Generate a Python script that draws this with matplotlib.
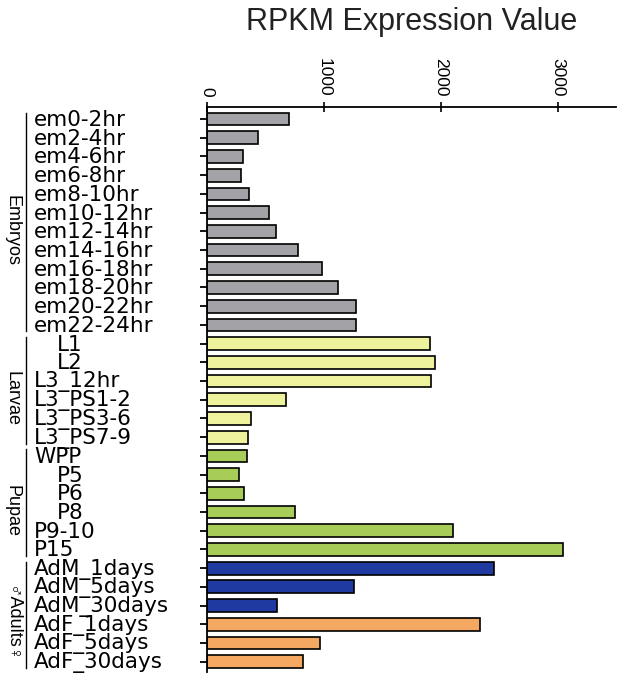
import matplotlib
matplotlib.use('Agg')
import matplotlib.pyplot as plt
from matplotlib import transforms

# RPKM values
embryo_labels = ['em0-2hr', 'em2-4hr', 'em4-6hr', 'em6-8hr', 'em8-10hr', 'em10-12hr',
                 'em12-14hr', 'em14-16hr', 'em16-18hr', 'em18-20hr', 'em20-22hr', 'em22-24hr']
embryo_values = [697, 434, 306, 289, 357, 531, 588, 779, 985, 1119, 1273, 1273]

larvae_labels = ['L1', 'L2', 'L3_12hr', 'L3_PS1-2', 'L3_PS3-6', 'L3_PS7-9']
larvae_values = [1907, 1947, 1912, 676, 374, 346]

pupae_labels = ['WPP', 'P5', 'P6', 'P8', 'P9-10', 'P15']
pupae_values = [337, 274, 317, 751, 2106, 3048]

male_labels = ['AdM_1days', 'AdM_5days', 'AdM_30days']
male_values = [2457, 1253, 597]

female_labels = ['AdF_1days', 'AdF_5days', 'AdF_30days']
female_values = [2335, 968, 822]

x_ticks = [0, 1000, 2000, 3000]

series = [
    (embryo_labels, embryo_values, '#a3a3a7'),
    (larvae_labels, larvae_values, '#eef29c'),
    (pupae_labels, pupae_values, '#a7cc58'),
    (male_labels, male_values, '#1f3aa0'),
    (female_labels, female_values, '#f4a862'),
]

groups = [
    ('Embryos', len(embryo_labels)),
    ('Larvae', len(larvae_labels)),
    ('Pupae', len(pupae_labels)),
    ('\u2642Adults\u2640', len(male_labels) + len(female_labels)),
]

fig = plt.figure(figsize=(6.23, 6.73), dpi=100)
W, H = 623, 673
ax = fig.add_axes([207.3 / W, 1 - 672 / H, (616 - 207.3) / W, (672 - 106.7) / H])

labels, values, colors = [], [], []
for labs, vals, col in series:
    labels += labs
    values += vals
    colors += [col] * len(labs)
rows = list(range(len(labels)))

ax.barh(rows, values, height=0.68, color=colors, edgecolor='black', linewidth=1.2)

ax.set_xlim(0, 3500)
ax.set_ylim(29.55, -0.66)

ax.xaxis.set_ticks_position('top')
ax.set_xticks(x_ticks)
ax.set_xticklabels([str(t) for t in x_ticks], rotation=-90,
                   fontsize=12.5, family='Liberation Sans')
ax.tick_params(axis='x', direction='inout', length=7, width=1.2, pad=4)
ax.set_yticks(rows)
ax.set_yticklabels([])
ax.tick_params(axis='y', direction='out', length=5, width=1.3)

for side in ['right', 'bottom']:
    ax.spines[side].set_visible(False)
for side in ['top', 'left']:
    ax.spines[side].set_linewidth(1.3)

# row labels, left aligned, short ones indented
trans = transforms.blended_transform_factory(fig.transFigure, ax.transData)
for r, lab in zip(rows, labels):
    x = 57 / W if len(lab) <= 2 else 34 / W
    ax.text(x, r + 0.05, lab, transform=trans, ha='left', va='center',
            fontsize=15.5, family='DejaVu Sans', clip_on=False)

# group brackets and names
start = 0
for name, n in groups:
    end = start + n - 1
    ax.plot([26 / W, 26 / W], [start - 0.35, end + 0.35], color='black',
            linewidth=1.0, transform=trans, clip_on=False)
    ax.text(12 / W, (start + end) / 2 + 0.45, name, transform=trans, rotation=-90,
            ha='center', va='center', fontsize=13,
            family=['Liberation Sans', 'DejaVu Sans'], clip_on=False)
    start = end + 1

fig.text(411.6 / W, 1 - 22 / H, 'RPKM Expression Value', ha='center', va='center',
         fontsize=22, family='Liberation Sans', color='#222222')

fig.savefig('out.png', dpi=100)
